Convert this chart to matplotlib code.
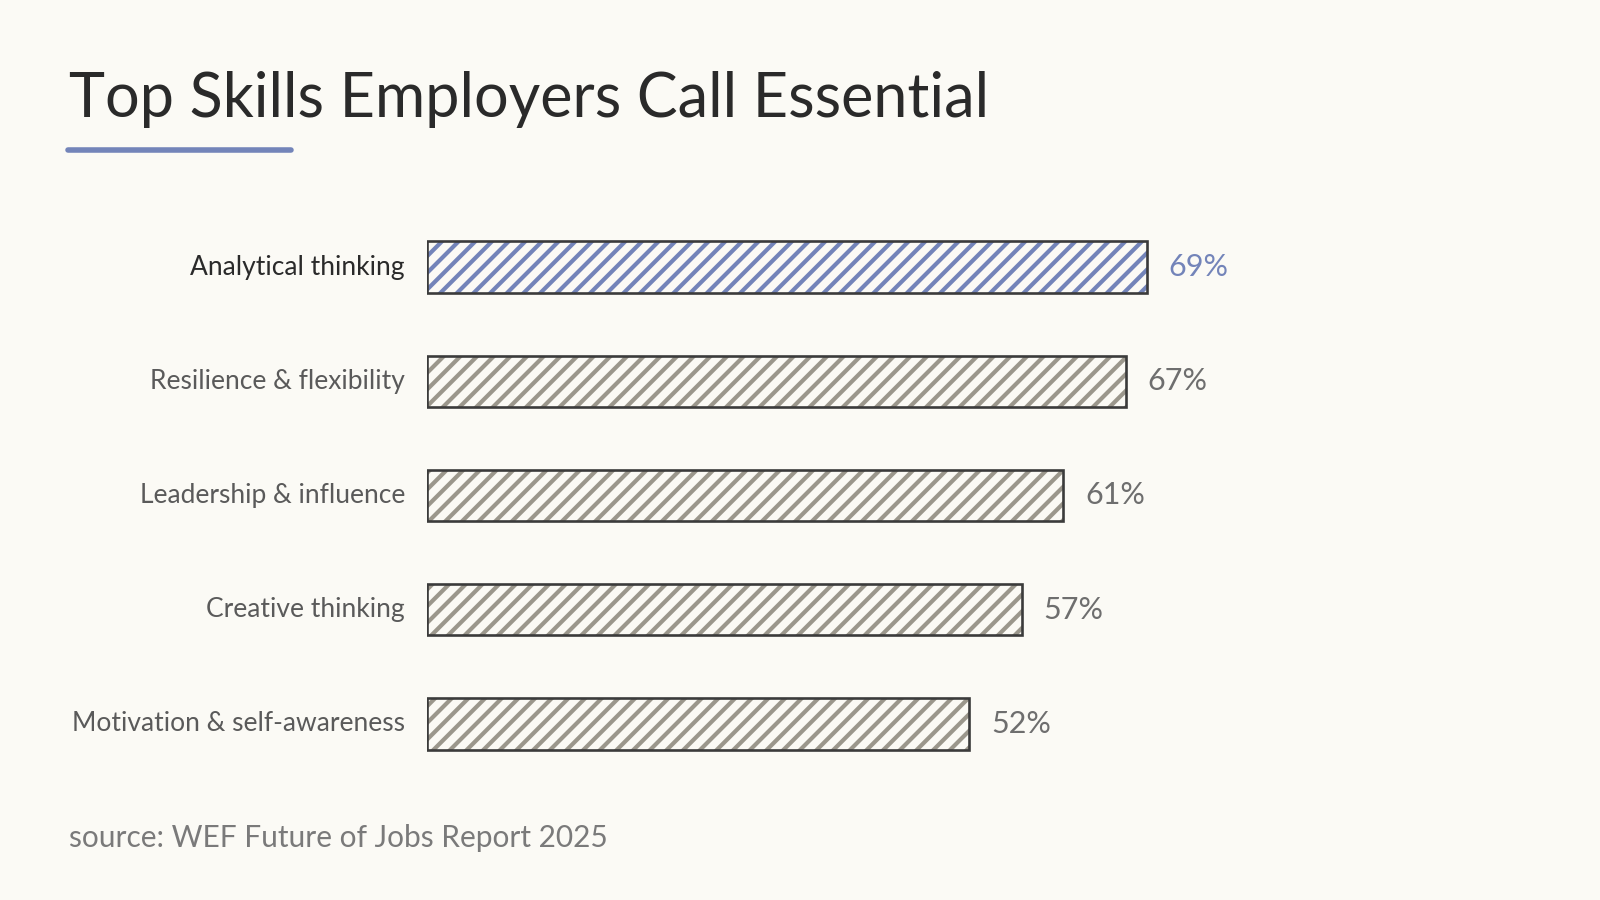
import matplotlib.pyplot as plt
import matplotlib as mpl

skills = ['Analytical thinking', 'Resilience & flexibility', 'Leadership & influence',
          'Creative thinking', 'Motivation & self-awareness']
shares = [69, 67, 61, 57, 52]
value_labels = ['69%', '67%', '61%', '57%', '52%']
highlight = 'Analytical thinking'

title = 'Top Skills Employers Call Essential'
source = 'source: WEF Future of Jobs Report 2025'

bg = '#fbfaf5'
blue = '#7384b9'
grey = '#9b978c'
ink = '#3b3b3b'

plt.rcParams['font.family'] = ['Lato', 'DejaVu Sans']
plt.rcParams['hatch.linewidth'] = 3.0

fig = plt.figure(figsize=(16, 9), dpi=100, facecolor=bg)
ax = fig.add_axes([427 / 1600, 1 - 781 / 900, 1043 / 1600, 571 / 900])
ax.set_facecolor(bg)

for i, (name, val) in enumerate(zip(skills, shares)):
    col = blue if name == highlight else grey
    # hatched fill, then the dark outline on top
    ax.barh(i, val, height=0.45, left=0, color=bg, edgecolor=col, hatch='//', linewidth=0)
    ax.barh(i, val, height=0.45, left=0, facecolor='none', edgecolor=ink, linewidth=1.9)
    ax.annotate(value_labels[i], xy=(val, i), xytext=(22, 0), textcoords='offset pixels',
                ha='left', va='center', fontsize=22, color=blue if name == highlight else '#6e6e6e')
    ax.annotate(name, xy=(0, i), xytext=(-22, 0), textcoords='offset pixels',
                ha='right', va='center', fontsize=19,
                color='#2a2a2a' if name == highlight else '#5a5a5a')

ax.set_xlim(0, 100)
ax.set_ylim(len(skills) - 0.5, -0.5)
ax.axis('off')

fig.text(69 / 1600, 1 - 117 / 900, title, fontsize=44, color='#2a2a2a', ha='left', va='baseline')
fig.add_artist(plt.Line2D([68 / 1600, 291 / 1600], [1 - 150 / 900, 1 - 150 / 900],
                          color=blue, linewidth=4, solid_capstyle='round'))
fig.text(69 / 1600, 1 - 847 / 900, source, fontsize=21.5, color='#7a7a7a', ha='left', va='baseline')

fig.savefig('out.png', dpi=100, facecolor=bg)
